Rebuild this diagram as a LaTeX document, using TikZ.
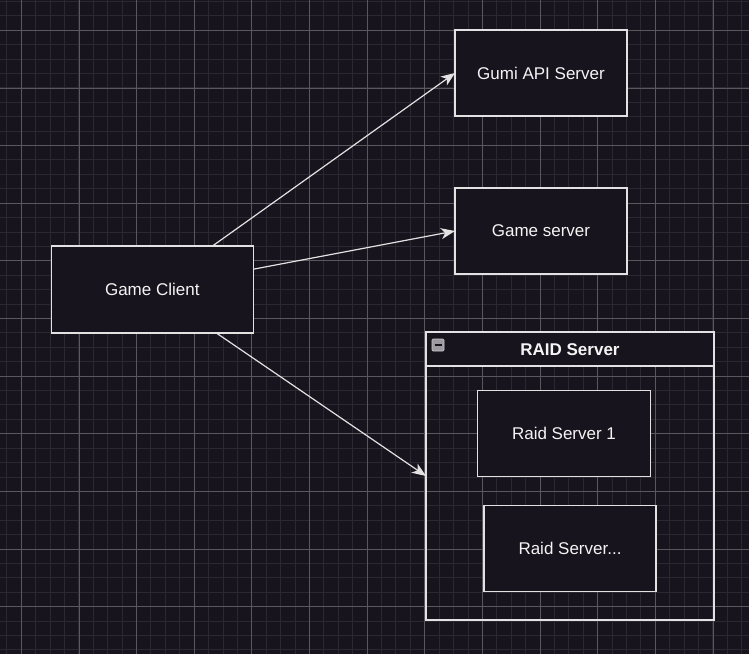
\documentclass[tikz,border=0pt]{standalone}
\usepackage{fontspec}
\setmainfont{Liberation Sans}
\usepackage{tikz}
\usetikzlibrary{arrows.meta,positioning,calc}
\definecolor{bg}{HTML}{18141D}
\definecolor{minor}{HTML}{2A2830}
\definecolor{major}{HTML}{5A585E}
\definecolor{edge}{HTML}{E2E2E2}
\definecolor{ink}{HTML}{F4F4F4}
\definecolor{knob}{HTML}{9A9AA0}
\tikzset{
  box/.style={draw=edge, fill=bg, line width=1.6pt, anchor=north west, inner sep=0pt,
              outer sep=0pt, minimum width=172pt, minimum height=86pt, align=center,
              text=ink, font=\fontsize{17}{20}\selectfont},
  arr/.style={-{Stealth[length=14pt,width=11pt,inset=4pt]}, line width=1.2pt, color=edge},
}

\begin{document}
\begin{tikzpicture}[x=1pt, y=-1pt,
      pool/.style={draw=edge, line width=1.6pt},
      head/.style={font=\fontsize{17}{20}\selectfont\bfseries, text=ink}]
    \useasboundingbox (0,0) rectangle (749,654);
    \fill[bg] (0,0) rectangle (749,654);
    % grid
    \foreach \k in {0,...,51}
      \draw[minor, line width=1pt] ({6.89+14.41*\k},0) -- ++(0,654);
    \foreach \k in {0,...,45}
      \draw[minor, line width=1pt] (0,{1.48+14.41*\k}) -- ++(749,0);
    \foreach \k in {0,...,12}
      \draw[major, line width=0.8pt] ({21.3+57.64*\k},0) -- ++(0,654);
    \foreach \k in {0,...,10}
      \draw[major, line width=0.8pt] (0,{30.3+57.64*\k}) -- ++(749,0);

    % servers
    \node[box, minimum width=202pt, minimum height=87pt] (client) at (51.3,245.7) {Game Client};
    \node[box] (gumi) at (455,30) {Gumi API Server};
    \node[box] (game) at (455,188) {Game server};

    % raid pool
    \fill[bg] (426,332) rectangle (714,366);
    \draw[pool] (426,332) rectangle (714,620);
    \draw[pool] (426,366) -- (714,366);
    \coordinate (raid) at (426,476);
    \node[head] (raidhead) at (570,350) {RAID Server};
    \draw[fill=knob, draw=gray!40, rounded corners=1pt, line width=0.6pt]
      (432,339) rectangle (444,351);
    \draw[bg, line width=1.3pt] (434.5,345) -- (441.5,345);
    \node[box, minimum width=173pt] (raid1) at (477.5,390.3) {Raid Server 1};
    \node[box] (raidn) at (484,505.5) {Raid Server...};

    % links
    \draw[arr] ($(client.north west)!0.8!(client.north east)$) -- (gumi.west);
    \draw[arr] ([yshift=20pt]client.east) -- (game.west);
    \draw[arr] ($(client.south west)!0.815!(client.south east)$) -- (raid);
  \end{tikzpicture}
\end{document}
